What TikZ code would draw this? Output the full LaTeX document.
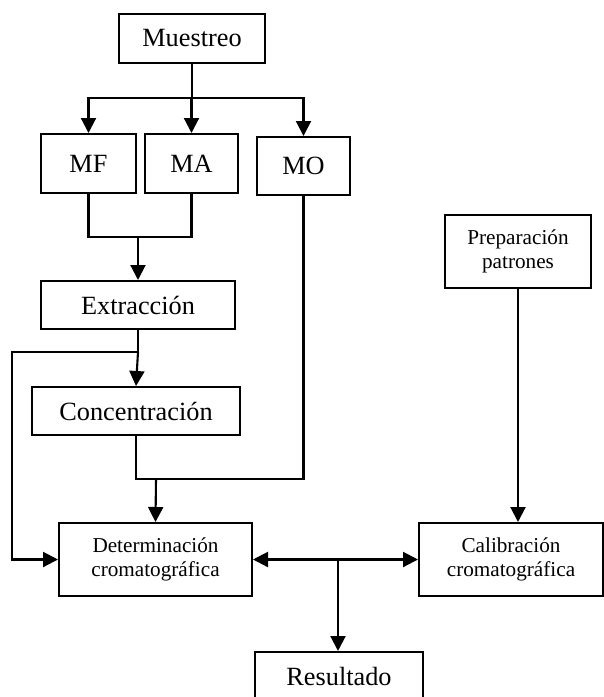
\documentclass[tikz,border=0pt]{standalone}
\usepackage{fontspec}
\setmainfont{Liberation Serif}
\usetikzlibrary{arrows.meta}
\tikzset{
  flujo/.style={
    etapa/.style={rectangle, draw, line width=2pt, inner sep=0pt, align=center,
        font={\fontsize{26.3}{30}\selectfont}},
    etapa chica/.style={etapa, font={\fontsize{21.2}{24}\selectfont}},
    linea/.style={black, line width=2.1pt},
    flecha/.style={linea, -{Triangle[length=15pt,width=15pt]}},
    flecha doble/.style={linea, {Triangle[length=15pt,width=15pt]}-{Triangle[length=15pt,width=15pt]}},
  }
}

\begin{document}
\begin{tikzpicture}
[
    flujo,
    x=1pt, y=-1pt
]
    \clip (0,0) rectangle (604,697);

    % etapas del muestreo
    \node[etapa, minimum width=146pt, minimum height=49pt] (muestreo) at (192,38.5) {Muestreo};
    \node[etapa, minimum width=95pt, minimum height=59pt] (mf) at (88.5,163.5) {MF};
    \node[etapa, minimum width=93pt, minimum height=59pt] (ma) at (191.5,163.5) {MA};
    \node[etapa, minimum width=93pt, minimum height=58pt] (mo) at (303.5,166) {MO};
    \node[etapa, minimum width=194pt, minimum height=48pt] (extraccion) at (138,305) {Extracción};
    \node[etapa, minimum width=208pt, minimum height=48pt] (concentracion) at (136,411) {Concentración};

    % etapas del analisis
    \node[etapa chica, minimum width=146pt, minimum height=73pt] (preparacion) at (518,251.5) {Preparación\\patrones};
    \node[etapa chica, minimum width=193pt, minimum height=73pt] (determinacion) at (155.5,559.5) {Determinación\\cromatográfica};
    \node[etapa chica, minimum width=184pt, minimum height=73pt] (calibracion) at (511,559.5) {Calibración\\cromatográfica};
    \node[etapa, minimum width=168pt, minimum height=48pt] (resultado) at (339,676) {Resultado};

    \coordinate (reparto) at (192,98);
    \coordinate (union) at (138,237);
    \coordinate (bifurca) at (138,352);
    \coordinate (izq) at (12,352);
    \coordinate (junta) at (156,479);
    \coordinate (cruce) at (338,559.5);

    \draw[linea] (muestreo.south) -- (reparto);
    \foreach \dest in {mf,ma,mo}
        \draw[flecha] (reparto) -| (\dest.north);

    \draw[linea] (mf.south) |- (union -| ma.south) -- (ma.south);
    \draw[flecha] (union) -- (extraccion.north);

    \draw[linea] (extraccion.south) -- (bifurca);
    \draw[flecha] (bifurca) -- (concentracion.north);
    \draw[flecha] (bifurca) -- (izq) |- (determinacion.west);

    \draw[linea] (concentracion.south) |- (junta) -| (mo.south);
    \draw[flecha] (junta) -- (determinacion.north);

    \draw[flecha] (preparacion.south) -- (preparacion.south |- calibracion.north);
    \draw[flecha doble] (determinacion.east) -- (calibracion.west);
    \draw[flecha] (cruce) -- (cruce |- resultado.north);
\end{tikzpicture}
\end{document}
